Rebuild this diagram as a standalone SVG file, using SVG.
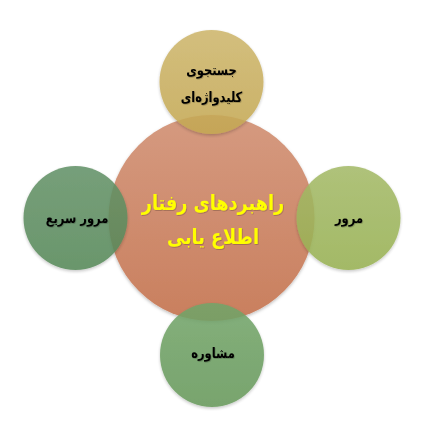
<svg xmlns="http://www.w3.org/2000/svg" width="424" height="424" viewBox="0 0 424 424">
<defs>
<linearGradient id="gC" x1="0" y1="0" x2="0" y2="1"><stop offset="0" stop-color="#D59A80"/><stop offset="1" stop-color="#C97F5E"/></linearGradient>
<linearGradient id="gT" x1="0" y1="0" x2="0" y2="1"><stop offset="0" stop-color="#CDB66C"/><stop offset="1" stop-color="#C4A752"/></linearGradient>
<linearGradient id="gL" x1="0" y1="0" x2="0" y2="1"><stop offset="0" stop-color="#649268"/><stop offset="1" stop-color="#568858"/></linearGradient>
<linearGradient id="gR" x1="0" y1="0" x2="0" y2="1"><stop offset="0" stop-color="#A4BA68"/><stop offset="1" stop-color="#97B052"/></linearGradient>
<linearGradient id="gB" x1="0" y1="0" x2="0" y2="1"><stop offset="0" stop-color="#73A56A"/><stop offset="1" stop-color="#66985A"/></linearGradient>
<filter id="sh" x="-20%" y="-20%" width="140%" height="140%"><feDropShadow dx="0" dy="1.5" stdDeviation="1.5" flood-color="#000" flood-opacity="0.25"/></filter>
<filter id="ts" x="-10%" y="-20%" width="120%" height="140%"><feDropShadow dx="0.8" dy="0.8" stdDeviation="0.6" flood-color="#000" flood-opacity="0.25"/></filter>
</defs>
<style>
.sat{opacity:0.88}
.lbl{font-family:"DejaVu Sans",sans-serif;font-weight:bold;font-size:14px;fill:#000;text-anchor:middle;dominant-baseline:central}
.ctr{font-family:"DejaVu Sans",sans-serif;font-weight:bold;font-size:21px;fill:#FFFF00;text-anchor:middle;dominant-baseline:central}
</style>
<g id="connectors"></g>
<g id="center">
<circle cx="211.5" cy="218" r="103" fill="url(#gC)" filter="url(#sh)"/>
</g>
<g id="top" class="sat">
<circle cx="211.5" cy="82" r="52" fill="url(#gT)" filter="url(#sh)"/>
</g>
<g id="left" class="sat">
<circle cx="75.5" cy="218" r="52" fill="url(#gL)" filter="url(#sh)"/>
</g>
<g id="right" class="sat">
<circle cx="348.5" cy="218" r="52" fill="url(#gR)" filter="url(#sh)"/>
</g>
<g id="bottom" class="sat">
<circle cx="212" cy="355" r="52" fill="url(#gB)" filter="url(#sh)"/>
</g>
<g id="labels">
<text class="ctr" transform="translate(213,203) scale(0.84,1)" direction="rtl" filter="url(#ts)">راهبردهای رفتار</text>
<text class="ctr" transform="translate(213,237) scale(0.84,1)" direction="rtl" filter="url(#ts)">اطلاع یابی</text>
<text class="lbl" transform="translate(211.5,70) scale(0.82,1)" direction="rtl" filter="url(#ts)">جستجوی</text>
<text class="lbl" transform="translate(211.5,97) scale(0.82,1)" direction="rtl" filter="url(#ts)">کلیدواژه&#x200C;ای</text>
<text class="lbl" transform="translate(77,218) scale(0.82,1)" direction="rtl" filter="url(#ts)">مرور سریع</text>
<text class="lbl" transform="translate(349,218) scale(0.82,1)" direction="rtl" filter="url(#ts)">مرور</text>
<text class="lbl" transform="translate(213,353) scale(0.82,1)" direction="rtl" filter="url(#ts)">مشاوره</text>
</g>
</svg>
